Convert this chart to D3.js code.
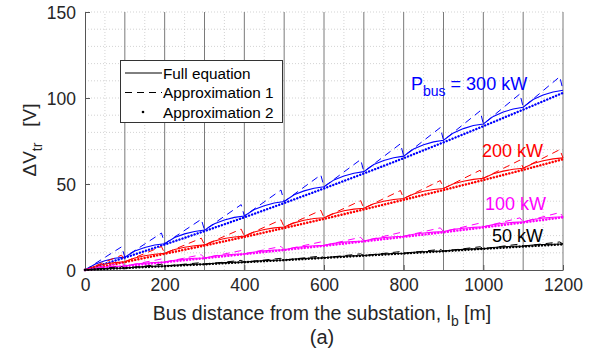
<!DOCTYPE html>
<html>
<head>
<meta charset="utf-8">
<script src="https://cdn.jsdelivr.net/npm/d3@7"></script>
<style>
  body { margin: 0; background: #fff; }
  svg { font-family: "Liberation Sans", Arial, sans-serif; }
</style>
</head>
<body>
<figure id="chart" style="margin:0"></figure>
<script>
// bus stop positions along the line [m]
const stopDist = [0, 100, 200, 300, 400, 500, 600, 700, 800, 900, 1000, 1100, 1200];
// positions of the full-equation samples [m]
const fullDist = [0, 25, 50, 75, 100, 125, 150, 175, 200, 225, 250, 275, 300, 325, 350, 375,
  400, 425, 450, 475, 500, 525, 550, 575, 600, 625, 650, 675, 700, 725, 750, 775,
  800, 825, 850, 875, 900, 925, 950, 975, 1000, 1025, 1050, 1075, 1100, 1125, 1150, 1175, 1200];
// where approximation 1 peaks before dropping back at the next stop [m]
const peakDist = [92, 192, 292, 392, 492, 592, 692, 792, 892, 992, 1092, 1192];

const powers = ["300 kW", "200 kW", "100 kW", "50 kW"];
const colors = ["#0000ff", "#ff0000", "#ff00ff", "#000000"];

// full equation, delta V [V]
const full300 = [0, 3.4, 5.4, 6.8, 7.5, 11.0, 13.1, 14.5, 15.3, 18.9, 21.0, 22.4, 23.2, 26.9, 29.1, 30.6,
  31.4, 35.2, 37.4, 39.0, 39.8, 43.7, 46.0, 47.5, 48.4, 52.4, 54.7, 56.3, 57.2, 61.3, 63.7, 65.3,
  66.2, 70.3, 72.8, 74.5, 75.4, 79.7, 82.2, 84.0, 84.9, 89.3, 91.9, 93.6, 94.6, 99.1, 101.7, 103.5, 104.5];
const full200 = [0, 2.2, 3.5, 4.3, 4.8, 7.0, 8.3, 9.2, 9.7, 11.9, 13.2, 14.1, 14.6, 16.9, 18.3, 19.2,
  19.7, 22.1, 23.5, 24.5, 25.0, 27.4, 28.9, 29.9, 30.4, 32.9, 34.4, 35.4, 35.9, 38.5, 40.0, 41.0,
  41.6, 44.2, 45.8, 46.8, 47.4, 50.1, 51.6, 52.7, 53.3, 56.0, 57.5, 58.6, 59.2, 61.9, 63.5, 64.6, 65.2];
const full100 = [0, 1.0, 1.7, 2.1, 2.3, 3.3, 4.0, 4.4, 4.6, 5.7, 6.3, 6.8, 7.0, 8.1, 8.7, 9.2,
  9.4, 10.5, 11.1, 11.6, 11.8, 12.9, 13.6, 14.1, 14.3, 15.5, 16.2, 16.6, 16.9, 18.1, 18.8, 19.3,
  19.6, 20.8, 21.5, 22.0, 22.3, 23.6, 24.3, 24.8, 25.1, 26.4, 27.2, 27.7, 28.0, 29.4, 30.2, 30.7, 31.0];
const full50 = [0, 0.5, 0.8, 1.0, 1.1, 1.6, 2.0, 2.2, 2.3, 2.8, 3.1, 3.3, 3.4, 3.9, 4.3, 4.5,
  4.6, 5.1, 5.5, 5.7, 5.8, 6.4, 6.7, 7.0, 7.1, 7.7, 8.0, 8.3, 8.4, 9.0, 9.3, 9.6,
  9.7, 10.3, 10.6, 10.9, 11.0, 11.6, 12.0, 12.3, 12.4, 13.1, 13.5, 13.8, 13.9, 14.5, 14.8, 15.0, 15.1];

// approximation 1: value at each stop and the peak just before the next stop
const stop300 = [0, 7.5, 15.3, 23.2, 31.4, 39.8, 48.4, 57.2, 66.2, 75.4, 84.9, 94.6, 104.5];
const peak300 = [13.5, 21.5, 29.5, 38.0, 46.5, 55.3, 64.2, 73.4, 82.8, 92.5, 102.4, 112.4];
const stop200 = [0, 4.8, 9.7, 14.6, 19.7, 25.0, 30.4, 35.9, 41.6, 47.4, 53.3, 59.2, 65.2];
const peak200 = [8.6, 13.6, 18.5, 23.8, 29.2, 34.7, 40.3, 46.2, 52.0, 58.0, 63.9, 70.0];
const stop100 = [0, 2.3, 4.6, 7.0, 9.4, 11.8, 14.3, 16.9, 19.6, 22.3, 25.1, 28.0, 31.0];
const peak100 = [4.1, 6.4, 8.9, 11.3, 13.7, 16.3, 19.0, 21.8, 24.5, 27.3, 30.3, 33.4];
const stop50 = [0, 1.1, 2.3, 3.4, 4.6, 5.8, 7.1, 8.4, 9.7, 11.0, 12.4, 13.9, 15.1];
const peak50 = [2.0, 3.3, 4.3, 5.6, 6.8, 8.1, 9.4, 10.7, 12.0, 13.5, 15.1, 16.3];

// approximation 2, value at each stop
const approx300 = [0, 7.2, 14.8, 22.6, 30.6, 38.9, 47.4, 56.1, 65.0, 74.2, 83.6, 93.2, 103.0];
const approx200 = [0, 4.6, 9.4, 14.2, 19.2, 24.4, 29.7, 35.2, 40.8, 46.5, 52.3, 58.2, 64.4];
const approx100 = [0, 2.2, 4.5, 6.8, 9.2, 11.6, 14.0, 16.6, 19.2, 21.9, 24.7, 27.6, 30.6];
const approx50 = [0, 1.1, 2.2, 3.3, 4.5, 5.7, 7.0, 8.3, 9.6, 10.9, 12.3, 13.6, 14.9];

const xTicks = [0, 200, 400, 600, 800, 1000, 1200];
const yTicks = [0, 50, 100, 150];

const fulls = [full300, full200, full100, full50];
const stops = [stop300, stop200, stop100, stop50];
const peaks = [peak300, peak200, peak100, peak50];
const approxs = [approx300, approx200, approx100, approx50];

const width = 593, height = 354;
const margin = { left: 85, right: 30, top: 12, bottom: 84 };

const svg = d3.select("figure#chart")
  .append("svg")
  .attr("width", width)
  .attr("height", height);

const x = d3.scaleLinear().domain([0, 1200]).range([margin.left, width - margin.right]);
const y = d3.scaleLinear().domain([0, 150]).range([height - margin.bottom, margin.top]);

// minor dotted grid
const grid = svg.append("g");
grid.selectAll("hgrid")
  .data(d3.range(10, 151, 10))
  .enter().append("line")
  .attr("x1", x(0)).attr("x2", x(1200))
  .attr("y1", d => y(d)).attr("y2", d => y(d))
  .attr("stroke", "#c8c8c8").attr("stroke-width", 0.8)
  .attr("stroke-dasharray", "1,2");
grid.selectAll("vgrid")
  .data(d3.range(50, 1200, 100))
  .enter().append("line")
  .attr("x1", d => x(d)).attr("x2", d => x(d))
  .attr("y1", y(0)).attr("y2", y(150))
  .attr("stroke", "#c8c8c8").attr("stroke-width", 0.8)
  .attr("stroke-dasharray", "1,2");
// bus stops as solid lines
grid.selectAll("stops")
  .data(stopDist.slice(1))
  .enter().append("line")
  .attr("x1", d => x(d)).attr("x2", d => x(d))
  .attr("y1", y(0)).attr("y2", y(150))
  .attr("stroke", "#7a7a7a").attr("stroke-width", 1);

// axes
const xAxis = svg.append("g")
  .attr("transform", "translate(0," + y(0) + ")")
  .call(d3.axisBottom(x).tickValues(xTicks).tickFormat(d3.format("d"))
    .tickSizeInner(-5).tickSizeOuter(0).tickPadding(10));
const yAxis = svg.append("g")
  .attr("transform", "translate(" + x(0) + ",0)")
  .call(d3.axisLeft(y).tickValues(yTicks).tickFormat(d3.format("d"))
    .tickSizeInner(-5).tickSizeOuter(0).tickPadding(9));
[xAxis, yAxis].forEach(a => {
  a.select(".domain").attr("stroke", "#555");
  a.selectAll(".tick line").attr("stroke", "#555");
  a.selectAll("text").attr("fill", "#262626").style("font-size", "17.5px")
    .style("font-family", "Liberation Sans, Arial, sans-serif");
});
yAxis.selectAll("text").attr("dy", "0.36em");
xAxis.selectAll("text").attr("dy", "0.6em");

// series
const plot = svg.append("g");
const line = d3.line().x(d => x(d[0])).y(d => y(d[1]));

powers.forEach((p, i) => {
  const fullPts = fullDist.map((d, j) => [d, fulls[i][j]]);
  const dashPts = [];
  peakDist.forEach((d, j) => {
    dashPts.push([stopDist[j], stops[i][j]]);
    dashPts.push([d, peaks[i][j]]);
    dashPts.push([stopDist[j + 1], stops[i][j + 1]]);
  });
  const dotPts = stopDist.map((d, j) => [d, approxs[i][j]]);

  plot.append("path").datum(dotPts)
    .attr("d", line).attr("fill", "none")
    .attr("stroke", colors[i]).attr("stroke-width", 2.4)
    .attr("stroke-linecap", "round").attr("stroke-dasharray", "0.1,3.1");
  plot.append("path").datum(dashPts)
    .attr("d", line).attr("fill", "none")
    .attr("stroke", colors[i]).attr("stroke-width", 1)
    .attr("stroke-dasharray", "7,5");
  plot.append("path").datum(fullPts)
    .attr("d", line).attr("fill", "none")
    .attr("stroke", colors[i]).attr("stroke-width", 1.1);
});

// power labels
const lbl = svg.append("g").style("font-size", "18px");
const t300 = lbl.append("text").attr("x", 411).attr("y", 90).attr("fill", colors[0]);
t300.append("tspan").text("P");
t300.append("tspan").attr("dy", 6).style("font-size", "14px").text("bus");
t300.append("tspan").attr("dy", -6).text(" = 300 kW");
lbl.append("text").attr("x", 482).attr("y", 157).attr("fill", colors[1]).text(powers[1]);
lbl.append("text").attr("x", 485).attr("y", 210).attr("fill", colors[2]).text(powers[2]);
lbl.append("text").attr("x", 492).attr("y", 242).attr("fill", colors[3]).text(powers[3]);

// legend
const leg = svg.append("g");
leg.append("rect").attr("x", 120.5).attr("y", 60.5).attr("width", 162).attr("height", 62)
  .attr("fill", "#fff").attr("stroke", "#333").attr("stroke-width", 1);
const legRows = [["Full equation", null], ["Approximation 1", "7,5"], ["Approximation 2", "dot"]];
legRows.forEach((r, i) => {
  const cy = 73 + i * 19.5;
  if (r[1] === "dot") {
    leg.append("circle").attr("cx", 143).attr("cy", cy).attr("r", 1.3).attr("fill", "#000");
  } else {
    leg.append("line").attr("x1", 125).attr("x2", 162).attr("y1", cy).attr("y2", cy)
      .attr("stroke", "#000").attr("stroke-width", 1)
      .attr("stroke-dasharray", r[1]);
  }
  leg.append("text").attr("x", 163).attr("y", cy + 5.5).style("font-size", "15.3px")
    .attr("fill", "#000").text(r[0]);
});

// axis titles
const xt = svg.append("text").attr("x", 322).attr("y", 320).attr("text-anchor", "middle")
  .style("font-size", "19.5px").attr("fill", "#262626");
xt.append("tspan").text("Bus distance from the substation, l");
xt.append("tspan").attr("dy", 6).style("font-size", "14px").text("b");
xt.append("tspan").attr("dy", -6).text(" [m]");

svg.append("text").attr("x", 322).attr("y", 344).attr("text-anchor", "middle")
  .style("font-size", "20px").attr("fill", "#262626").text("(a)");

const yt = svg.append("text").attr("transform", "translate(36,140) rotate(-90)")
  .attr("text-anchor", "middle").style("font-size", "19px").attr("fill", "#262626");
yt.append("tspan").text("\u0394V");
yt.append("tspan").attr("dy", 6).style("font-size", "14px").text("tr");
yt.append("tspan").attr("dy", -6).text("\u00a0\u00a0\u00a0[V]");
</script>
</body>
</html>
